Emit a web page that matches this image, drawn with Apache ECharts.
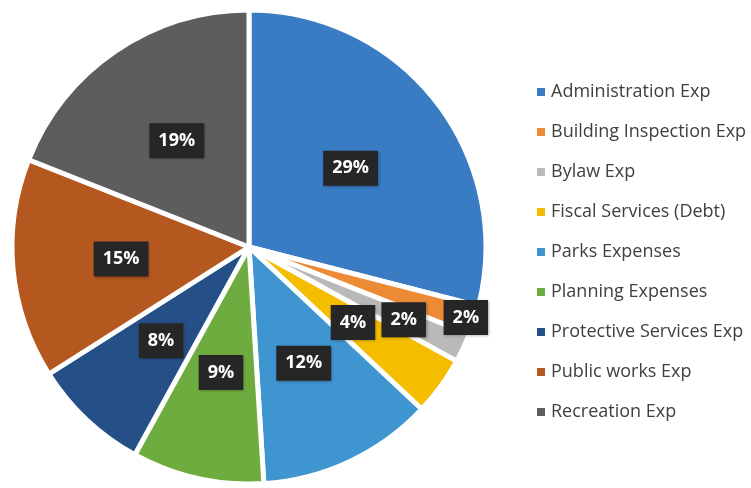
<!DOCTYPE html>
<html>
<head>
<meta charset="utf-8">
<script src="https://cdn.jsdelivr.net/npm/echarts@6/dist/echarts.min.js"></script>
<style>html,body{margin:0;padding:0;background:#fff;}#c{width:751px;height:488px;}</style>
</head>
<body>
<div id="c"></div>
<script>
const categories = ['Administration Exp','Building Inspection Exp','Bylaw Exp','Fiscal Services (Debt)','Parks Expenses','Planning Expenses','Protective Services Exp','Public works Exp','Recreation Exp'];
const values = [29, 2, 2, 4, 12, 9, 8, 15, 19];
const colors = ['#3a7cc4','#ec8a35','#b9b9b9','#f5bd00','#3f95d0','#6fac3f','#254f87','#b5581f','#5d5d5d'];

const chart = echarts.init(document.getElementById('c'));
const center = [249, 247];
const R = 237;

const labelStyle = {
  show: true,
  position: 'inside',
  formatter: '{c}%',
  color: '#ffffff',
  fontFamily: 'Open Sans',
  fontWeight: 'bold',
  fontSize: 18,
  backgroundColor: '#262626',
  padding: [9, 9, 8, 9],
  shadowColor: 'rgba(0,0,0,0.35)',
  shadowBlur: 3,
  shadowOffsetX: 1,
  shadowOffsetY: 1
};

// which labels go on which helper ring
const labelGroups = [
  { radius: [14, R], names: ['Administration Exp','Fiscal Services (Debt)','Parks Expenses','Planning Expenses','Protective Services Exp','Public works Exp','Recreation Exp'] },
  { radius: [99, R], names: ['Bylaw Exp'] },
  { radius: [213, R], names: ['Building Inspection Exp'] }
];

const mainSeries = {
  type: 'pie',
  center: center,
  radius: [0, R],
  startAngle: 90,
  clockwise: true,
  avoidLabelOverlap: false,
  label: { show: false },
  labelLine: { show: false },
  itemStyle: { borderColor: '#ffffff', borderWidth: 5 },
  emphasis: { disabled: true },
  data: categories.map((n, i) => ({ name: n, value: values[i], itemStyle: { color: colors[i] } }))
};

const helperSeries = labelGroups.map(g => ({
  type: 'pie',
  center: center,
  radius: g.radius,
  startAngle: 90,
  clockwise: true,
  silent: true,
  avoidLabelOverlap: false,
  legendHoverLink: false,
  labelLine: { show: false },
  emphasis: { disabled: true },
  itemStyle: { color: 'rgba(0,0,0,0)', borderWidth: 0 },
  data: categories.map((n, i) => ({
    name: n, value: values[i],
    itemStyle: { color: 'rgba(0,0,0,0)' },
    label: Object.assign({}, labelStyle, { show: g.names.indexOf(n) >= 0 })
  }))
}));

chart.setOption({
  animation: false,
  legend: {
    orient: 'vertical',
    left: 530,
    top: 77,
    data: categories,
    icon: 'rect',
    itemWidth: 10,
    itemHeight: 10,
    itemGap: 20,
    selectedMode: false,
    textStyle: { fontFamily: 'Open Sans', fontSize: 18, color: '#404040', lineHeight: 20 }
  },
  series: [mainSeries].concat(helperSeries)
});
</script>
</body>
</html>
